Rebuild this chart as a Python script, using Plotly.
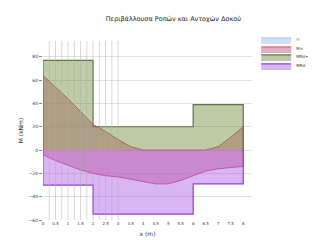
import plotly.graph_objects as go

# Data
x_curve = [0, 0.5, 1, 1.5, 2, 2.5, 3, 3.5, 4, 4.5, 5, 5.5, 6, 6.5, 7, 7.5, 8]
m_pos = [64, 54, 44, 33, 22, 16, 9, 3, 0, 0, 0, 0, 0, 0, 3, 11, 20]
m_neg = [-4, -9, -13, -17, -20, -22, -23, -25, -27, -29, -29, -26, -22, -18, -16, -15, -14]
x_steps = [0, 2, 6, 8]
rd_pos = [77, 20, 39]
rd_neg = [-30, -55, -29]
grid_x = [0.25, 0.5, 0.75, 1.0, 1.25, 1.5, 1.75, 2.0, 2.25, 2.5, 2.75, 3.0]

names = ["M", "M±", "MRd+", "MRd-"]
title = "Περιβάλλουσα Ροπών και Αντοχών Δοκού"


def step_polygon(xs, vals):
    px, py = [xs[0]], [0]
    for i, v in enumerate(vals):
        px += [xs[i], xs[i + 1]]
        py += [v, v]
    px.append(xs[-1])
    py.append(0)
    return px, py


fig = go.Figure()

fig.add_trace(go.Scatter(x=x_curve, y=m_pos, name=names[0], mode="lines", fill="tozeroy",
                         line=dict(color="rgb(90,120,220)", width=1),
                         fillcolor="rgba(110,140,230,0.6)", visible="legendonly",
                         legend="legend"))
fig.add_trace(go.Scatter(x=x_curve + x_curve[::-1], y=m_pos + m_neg[::-1], name=names[1],
                         mode="lines", fill="toself",
                         line=dict(color="rgba(200,70,90,0.9)", width=1),
                         fillcolor="rgba(205,105,140,0.55)", legend="legend2"))
gx_, gy_ = step_polygon(x_steps, rd_pos)
fig.add_trace(go.Scatter(x=gx_, y=gy_, name=names[2], mode="lines", fill="toself",
                         line=dict(color="rgb(100,115,70)", width=1.2),
                         fillcolor="rgba(110,140,60,0.45)", legend="legend3"))
px_, py_ = step_polygon(x_steps, rd_neg)
fig.add_trace(go.Scatter(x=px_, y=py_, name=names[3], mode="lines", fill="toself",
                         line=dict(color="rgb(150,60,220)", width=1.2),
                         fillcolor="rgba(170,90,230,0.45)", legend="legend4"))

# vertical guide lines
for gx in grid_x:
    fig.add_trace(go.Scatter(x=[gx, gx], y=[-60, 93.6], mode="lines",
                             line=dict(color="rgba(170,170,170,0.45)", width=1),
                             showlegend=False, hoverinfo="skip"))

leg = dict(x=1.02, xanchor="left", yanchor="middle", font=dict(size=4),
           bgcolor="rgba(0,0,0,0)", itemwidth=30)

fig.update_layout(
    width=318, height=240,
    margin=dict(l=30, r=36, t=33, b=27),
    paper_bgcolor="white", plot_bgcolor="white",
    font=dict(family="DejaVu Sans", size=5, color="#333"),
    title=dict(text=title, x=0.52, xanchor="center", y=0.955, yanchor="middle",
               font=dict(size=6.5, color="#222")),
    legend=dict(leg, y=1.006),
    legend2=dict(leg, y=0.956),
    legend3=dict(leg, y=0.911),
    legend4=dict(leg, y=0.861),
    xaxis=dict(range=[0, 8.35], dtick=0.5, showgrid=False, zeroline=False,
               showline=False, ticks="", tickfont=dict(size=4),
               title=dict(text="x (m)", font=dict(size=6), standoff=6)),
    yaxis=dict(range=[-60, 93.6], dtick=20, showgrid=True, gridcolor="rgb(225,225,225)",
               zeroline=False, ticks="outside", ticklen=3, tickcolor="#888",
               tickfont=dict(size=4.5),
               title=dict(text="M (kNm)", font=dict(size=6), standoff=4)),
)

fig.write_html("out.html")
